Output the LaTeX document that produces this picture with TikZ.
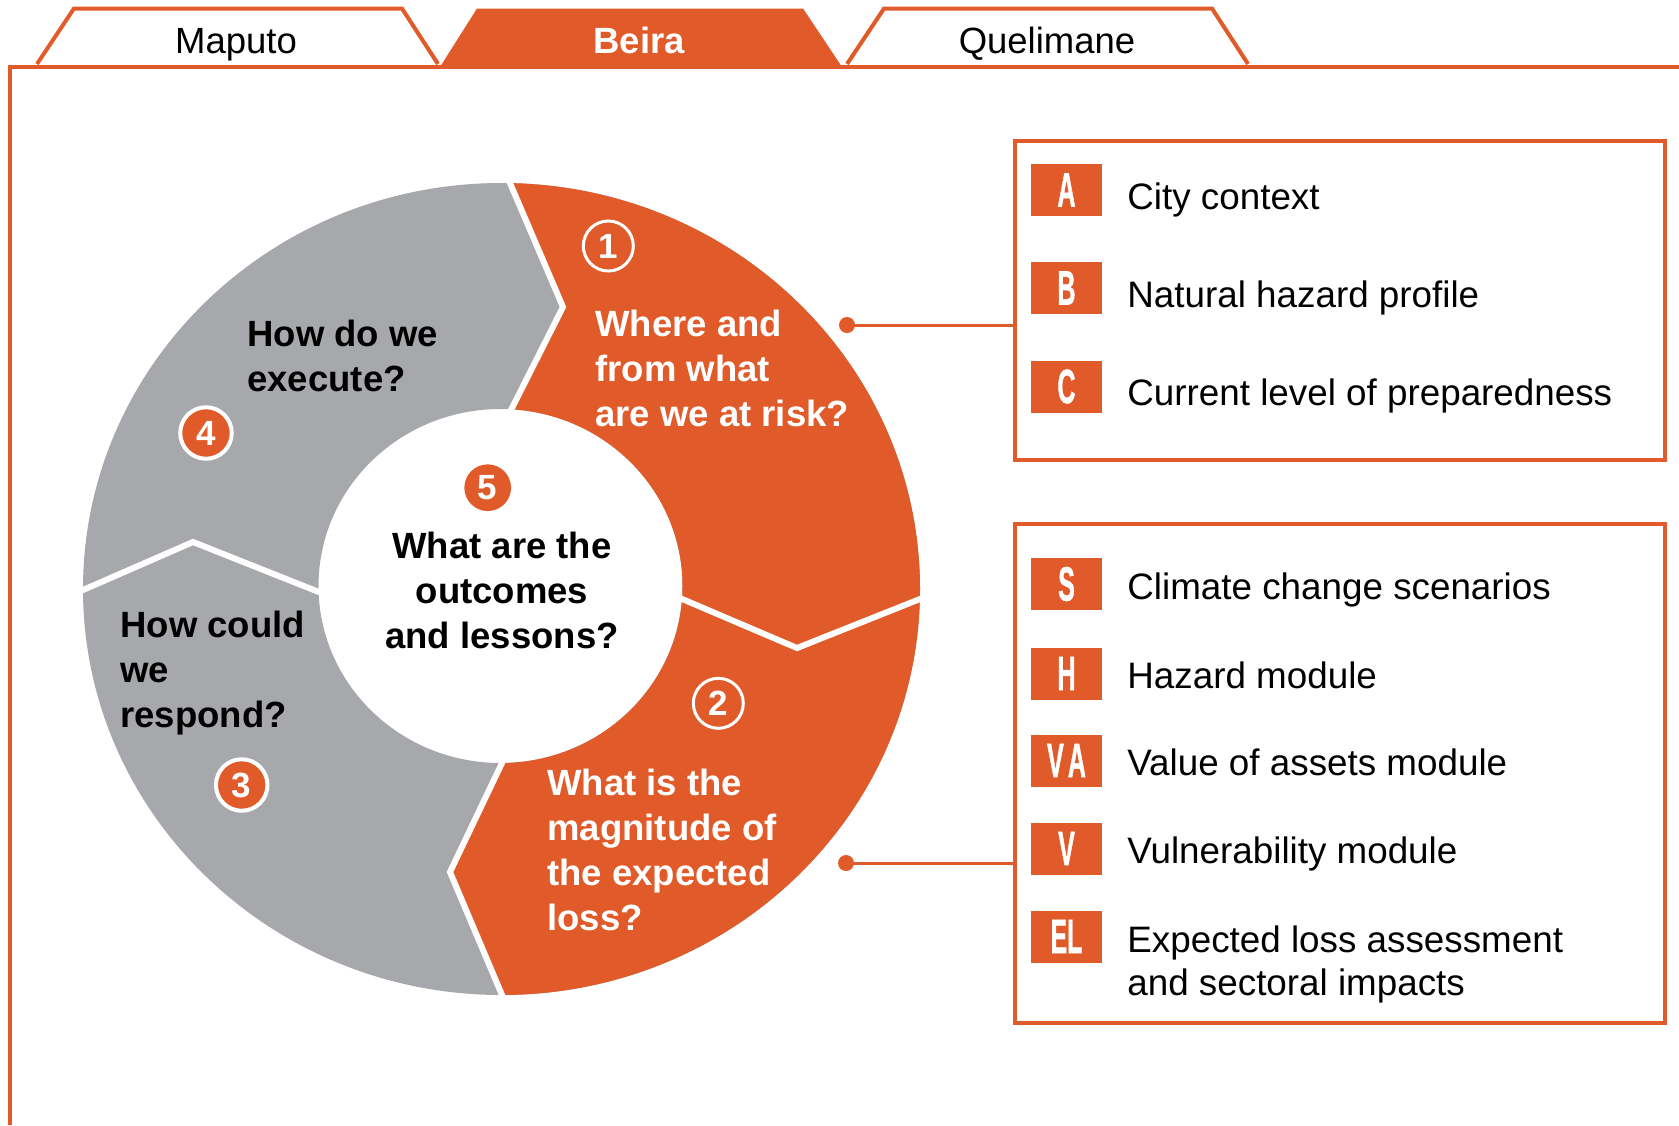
\documentclass[tikz,border=0pt]{standalone}
\usepackage{fontspec}
\usepackage{graphicx}
\setmainfont{Liberation Sans}
\newfontfamily\letterfont[FakeBold=1.5]{Liberation Sans Bold}
\definecolor{brand}{HTML}{E15A29}
\definecolor{ringgray}{HTML}{A7A8AB}
\begin{document}
\begin{tikzpicture}[x=0.5pt,y=-0.5pt,
  frameline/.style={draw=brand,line width=2pt},
  divider/.style={draw=white,line width=3pt,line join=miter},
  qtext/.style={font=\fontsize{18.25}{22.5}\selectfont\bfseries,inner sep=0pt,align=left,anchor=base west},
  tabtext/.style={font=\fontsize{18.25}{22}\selectfont,inner sep=0pt,anchor=base},
  numopen/.style={circle,draw=white,line width=1.5pt,minimum size=25pt,inner sep=0pt,text=white,font=\fontsize{17.5}{18}\selectfont\bfseries},
  numfill/.style={circle,fill=brand,draw=white,line width=2pt,minimum size=25.75pt,inner sep=0pt,text=white,font=\fontsize{17.5}{18}\selectfont\bfseries},
  legbox/.style={draw=brand,line width=1.75pt,minimum width=325pt,inner sep=0pt},
  letterbox/.style={fill=brand,minimum width=35.5pt,minimum height=26pt,inner sep=0pt,text=white,font=\letterfont\fontsize{24}{24}\selectfont},
  legtext/.style={font=\fontsize{18.4}{21.5}\selectfont,inner sep=0pt,align=left,anchor=base west},
  dotnode/.style={circle,fill=brand,minimum size=8pt,inner sep=0pt},
  conn/.style={draw=brand,line width=1.5pt}]
\useasboundingbox (0,0) rectangle (1679,1125);

% ring
\fill[ringgray,even odd rule] (501.5,589) ellipse [x radius=209.25pt,y radius=203pt]
  (500.5,586) ellipse [x radius=91pt,y radius=88.5pt];
\begin{scope}
  \clip (496,150) -- (563,307) -- (512,408) -- (502,763) -- (450,872) -- (517,1030) -- (1000,1030) -- (1000,150) -- cycle;
  \fill[brand,even odd rule] (501.5,589) ellipse [x radius=209.25pt,y radius=203pt]
    (500.5,586) ellipse [x radius=91pt,y radius=88.5pt];
\end{scope}
\draw[divider] (505.3,172) -- (563,307) -- (507.5,417);
\draw[divider] (672.8,595) -- (797,648) -- (929.3,595.3);
\draw[divider] (506.3,754) -- (450,872) -- (505.9,1004.2);
\draw[divider] (73.8,594) -- (193,542) -- (328.3,595.7);

% frame and tabs
\draw[frameline] (10,1125) -- (10,67) -- (1679,67);
\draw[frameline,fill=white] (37,64) -- (74,8.5) -- (402,8.5) -- (438,64);
\fill[brand] (440,67) -- (477,8.5) -- (803,8.5) -- (842,67) -- cycle;
\draw[frameline,fill=white] (847,64) -- (884,8.5) -- (1212,8.5) -- (1248,64);
\node[tabtext] (tmaputo) at (236,53) {Maputo};
\node[tabtext,text=white,font=\fontsize{18.25}{22}\selectfont\bfseries] (tbeira) at (639,53) {Beira};
\node[tabtext] (tquel) at (1047,53) {Quelimane};

% numbers
\node[numopen] (n1) at (608.3,246) {1};
\node[numopen] (n2) at (718.3,703.3) {2};
\node[numfill] (n3) at (241.7,785) {3};
\node[numfill] (n4) at (206,433) {4};
\node[circle,fill=brand,minimum size=23.35pt,inner sep=0pt,text=white,font=\fontsize{17.5}{18}\selectfont\bfseries] (n5) at (487.7,487.7) {5};

% questions (anchor at baseline of the last line)
\node[qtext,text=white] (q1) at (595,426.7) {Where and\\from what\\are we at risk?};
\node[qtext,text=white] (q2) at (547,930) {What is the\\magnitude of\\the expected\\loss?};
\node[qtext] (q3) at (120,727.3) {How could\\we\\respond?};
\node[qtext] (q4) at (247,391.7) {How do we\\execute?};
\node[qtext,align=center,anchor=base] (q5) at (502,648) {What are the\\outcomes\\and lessons?};

% legend boxes
\node[legbox,minimum height=159.5pt] (box1) at (1340,300.5) {};
\node[legbox,minimum height=249.5pt] (box2) at (1340,773.5) {};

\node[letterbox] (la) at (1066.5,190) {\scalebox{0.52}[1]{A}};
\node[letterbox] (lb) at (1066.5,288) {\scalebox{0.52}[1]{B}};
\node[letterbox] (lc) at (1066.5,386.5) {\scalebox{0.52}[1]{C}};
\node[letterbox] (ls) at (1066.5,584) {\scalebox{0.52}[1]{S}};
\node[letterbox] (lh) at (1066.5,673.5) {\scalebox{0.52}[1]{H}};
\node[letterbox] (lva) at (1066.5,760.5) {\scalebox{0.52}[1]{V\,A}};
\node[letterbox] (lv) at (1066.5,848.5) {\scalebox{0.52}[1]{V}};
\node[letterbox] (lel) at (1066.5,936.5) {\scalebox{0.52}[1]{EL}};

\node[legtext] (ta) at (1127,209) {City context};
\node[legtext] (tb) at (1127,307) {Natural hazard profile};
\node[legtext] (tc) at (1127,405) {Current level of preparedness};
\node[legtext] (ts) at (1127,599) {Climate change scenarios};
\node[legtext] (th) at (1127,688) {Hazard module};
\node[legtext] (tva) at (1127,775) {Value of assets module};
\node[legtext] (tv) at (1127,863) {Vulnerability module};
\node[legtext] (tel) at (1127,995) {Expected loss assessment\\and sectoral impacts};

% connectors
\node[dotnode] (d1) at (847,325) {};
\node[dotnode] (d2) at (846,863) {};
\draw[conn] (d1.center) -- (d1.center -| box1.west);
\draw[conn] (d2.center) -- (d2.center -| box2.west);
\end{tikzpicture}
\end{document}
